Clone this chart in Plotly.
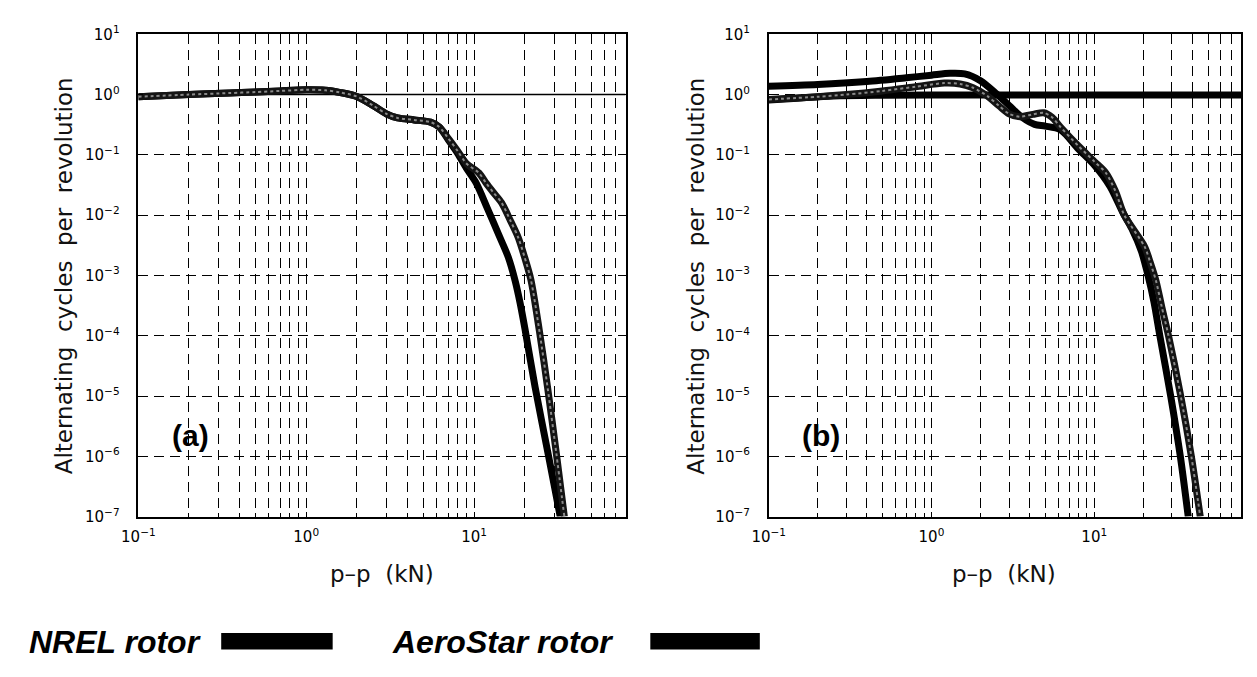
import plotly.graph_objects as go

W, H = 1257, 677

# ---------------- data: panel (a) ----------------
a_nrel_x = [0.1, 0.2, 0.35, 0.5, 0.7, 1.0, 1.3, 1.6, 2.0, 2.5, 3.0, 3.5, 4.4, 5.5, 6.2,
            7, 8, 9, 10.3, 12, 14, 16, 17.6, 18.8, 20.1, 23.1, 27.8, 32.6]
a_nrel_y = [0.92, 1.0, 1.06, 1.1, 1.15, 1.2, 1.18, 1.08, 0.93, 0.66, 0.48, 0.41, 0.38, 0.35, 0.29,
            0.18, 0.105, 0.06, 0.034, 0.013, 0.0048, 0.002, 8e-4, 3.5e-4, 1.3e-4, 1.4e-5, 1e-6, 1e-7]
a_aero_x = [0.1, 0.2, 0.35, 0.5, 0.7, 1.0, 1.3, 1.6, 2.0, 2.5, 3.0, 3.5, 4.4, 5.5, 6.2,
            7, 8, 9, 10.7, 11.8, 13, 14.6, 16.5, 18.3, 20, 21.8, 24.5, 27.5, 30.8, 34.5]
a_aero_y = [0.92, 1.0, 1.06, 1.1, 1.15, 1.2, 1.18, 1.08, 0.93, 0.66, 0.48, 0.41, 0.38, 0.35, 0.29,
            0.19, 0.115, 0.072, 0.05, 0.034, 0.024, 0.016, 0.008, 0.0043, 0.002, 8.5e-4, 1.2e-4, 1.3e-5, 1.2e-6, 1e-7]
a_ref_x = [0.1, 80]
a_ref_y = [1.0, 1.0]

# ---------------- data: panel (b) ----------------
b_nrel_x = [0.1, 0.2, 0.4, 0.7, 1.0, 1.3, 1.6, 2.0, 2.5, 3.0, 3.6, 4.3, 5.0, 6.2, 8, 10,
            12.5, 15, 17, 19.5, 21.4, 23.3, 25.3, 29.5, 33.8, 37.8]
b_nrel_y = [1.37, 1.47, 1.65, 1.9, 2.1, 2.25, 2.2, 1.7, 1.04, 0.66, 0.42, 0.32, 0.30, 0.26, 0.125, 0.068,
            0.03, 0.011, 0.006, 0.0025, 0.001, 3.6e-4, 1e-4, 1e-5, 1e-6, 1e-7]
b_aero_x = [0.1, 0.2, 0.3, 0.5, 0.8, 1.2, 1.5, 1.8, 2.2, 2.6, 3.0, 3.5, 4.2, 4.9, 5.5, 6.2, 8, 10,
            11.8, 13.5, 15.3, 20.4, 22, 24, 26, 28.6, 34, 39.5, 44.8]
b_aero_y = [0.83, 0.92, 1.0, 1.15, 1.35, 1.55, 1.5, 1.3, 0.95, 0.65, 0.48, 0.43, 0.47, 0.50, 0.42, 0.29, 0.14, 0.078,
            0.05, 0.025, 0.01, 0.003, 0.0017, 8e-4, 3e-4, 1e-4, 1e-5, 1e-6, 1e-7]
b_flat_x = [0.1, 0.15, 0.25, 0.5, 1.0, 80]
b_flat_y = [0.81, 0.87, 0.95, 0.975, 0.98, 0.98]

# ---------------- axis ticks ----------------
x_major = [0.1, 1, 10]
x_major_text = ["10<sup>\u22121</sup>", "10<sup>0</sup>", "10<sup>1</sup>"]
x_minor = [m * d for d in (0.1, 1, 10) for m in range(2, 10)]
y_major = [1e-7, 1e-6, 1e-5, 1e-4, 1e-3, 1e-2, 1e-1, 1e0, 1e1]
y_major_text = ["10<sup>\u22127</sup>", "10<sup>\u22126</sup>", "10<sup>\u22125</sup>", "10<sup>\u22124</sup>",
                "10<sup>\u22123</sup>", "10<sup>\u22122</sup>", "10<sup>\u22121</sup>", "10<sup>0</sup>", "10<sup>1</sup>"]


def px(x):
    return x / W


def py(y):
    return 1 - y / H


fig = go.Figure()

thick = 7
spl = dict(shape="spline", smoothing=0.8)


def add_curve(xs, ys, xa, ya, width=thick, color="black", textured=False):
    fig.add_trace(go.Scatter(x=xs, y=ys, mode="lines", xaxis=xa, yaxis=ya, showlegend=False,
                             line=dict(color=color, width=width, **spl), hoverinfo="skip"))
    if textured:
        fig.add_trace(go.Scatter(x=xs, y=ys, mode="lines", xaxis=xa, yaxis=ya, showlegend=False,
                                 line=dict(color="#8a8a8a", width=2, dash="dot", **spl), hoverinfo="skip"))


# panel (a)
add_curve(a_ref_x, a_ref_y, "x", "y", width=1.5)
add_curve(a_nrel_x, a_nrel_y, "x", "y")
add_curve(a_aero_x, a_aero_y, "x", "y", color="#141414", textured=True)
# panel (b)
add_curve(b_flat_x, b_flat_y, "x2", "y2")
add_curve(b_nrel_x, b_nrel_y, "x2", "y2")
add_curve(b_aero_x, b_aero_y, "x2", "y2", color="#141414", textured=True)

tickfont = dict(family="DejaVu Sans", size=15, color="black")
dash = "10px,6px"


def xaxis(domain):
    return dict(type="log", range=[-1, 1.903], domain=domain, showline=True, linecolor="black",
                linewidth=1.5, mirror="allticks", ticks="inside", ticklen=5, tickcolor="black",
                tickmode="array", tickvals=x_major, ticktext=x_major_text, tickfont=tickfont,
                showgrid=True, gridcolor="black", gridwidth=1, griddash=dash, zeroline=False,
                ticklabelstandoff=6,
                minor=dict(tickmode="array", tickvals=x_minor, ticks="inside", ticklen=4,
                           tickcolor="black", showgrid=True, gridcolor="black", gridwidth=1,
                           griddash=dash))


def yaxis(domain, anchor):
    return dict(type="log", range=[-7, 1], domain=domain, anchor=anchor, showline=True,
                linecolor="black", linewidth=1.5, mirror="allticks", ticks="inside", ticklen=5,
                tickcolor="black", tickmode="array", tickvals=y_major, ticktext=y_major_text,
                tickfont=tickfont, showgrid=True, gridcolor="black", gridwidth=1, griddash=dash,
                zeroline=False, ticklabelstandoff=14)


ydom = [py(521), py(24)]
fig.update_layout(
    width=W, height=H, margin=dict(l=0, r=0, t=0, b=0),
    paper_bgcolor="white", plot_bgcolor="white",
    xaxis=dict(xaxis([px(123), px(617)]), anchor="y"),
    yaxis=yaxis(ydom, "x"),
    xaxis2=dict(xaxis([px(762), px(1241)]), anchor="y2"),
    yaxis2=yaxis(ydom, "x2"),
)

title_font = dict(family="DejaVu Sans", size=23, color="#111")
ann = []
for cx, ycx in ((370, 48), (1001, 688)):
    ann.append(dict(x=px(cx), y=py(580), xref="paper", yref="paper", text="p\u2013p  (kN)",
                    showarrow=False, font=title_font, xanchor="center", yanchor="middle"))
    ann.append(dict(x=px(ycx), y=py(273), xref="paper", yref="paper",
                    text="Alternating  cycles  per  revolution", textangle=-90,
                    showarrow=False, font=title_font, xanchor="center", yanchor="middle"))

panel_font = dict(family="Liberation Sans", size=30, color="black")
ann.append(dict(x=px(176), y=py(437), xref="paper", yref="paper", text="<b>(a)</b>",
                showarrow=False, font=panel_font, xanchor="center", yanchor="middle"))
ann.append(dict(x=px(815), y=py(437), xref="paper", yref="paper", text="<b>(b)</b>",
                showarrow=False, font=panel_font, xanchor="center", yanchor="middle"))

legend_font = dict(family="Liberation Sans", size=32, color="black")
legend_labels = ["NREL rotor", "AeroStar rotor"]
legend_text_x = [10, 378]
legend_bar_x = [(207, 320), (642, 753)]
for lab, tx, (b0, b1) in zip(legend_labels, legend_text_x, legend_bar_x):
    ann.append(dict(x=px(tx), y=py(650), xref="paper", yref="paper", text=f"<b><i>{lab}</i></b>",
                    showarrow=False, font=legend_font, xanchor="left", yanchor="middle"))
    fig.add_shape(type="rect", xref="paper", yref="paper", x0=px(b0), x1=px(b1),
                  y0=py(658), y1=py(641), fillcolor="black", line=dict(width=0))

fig.update_layout(annotations=ann)
fig.write_html("out.html", config={"displayModeBar": False},
               post_script="document.body.style.margin='0';document.body.style.overflow='hidden';")
